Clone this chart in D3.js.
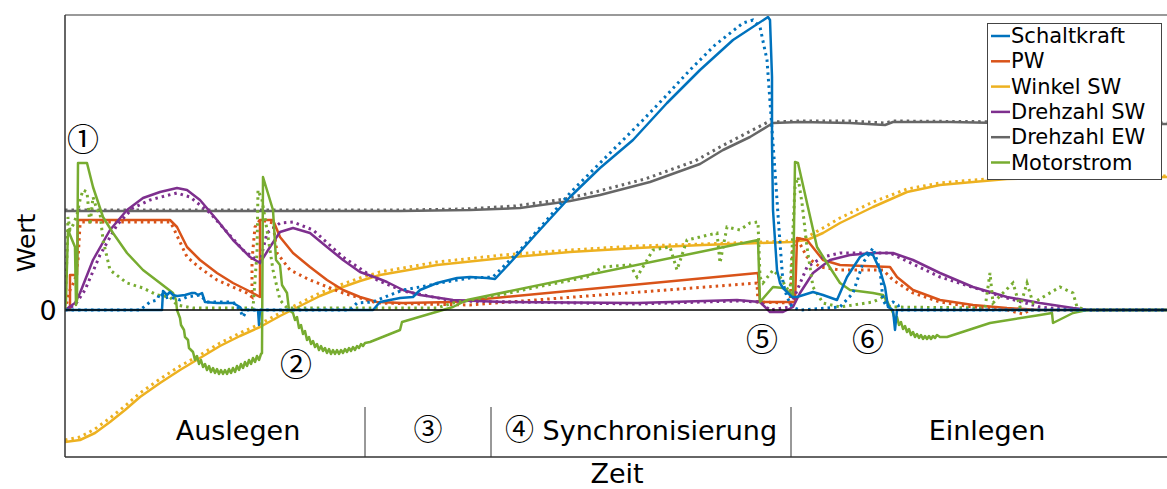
<!DOCTYPE html>
<html>
<head>
<meta charset="utf-8">
<script src="https://cdn.jsdelivr.net/npm/d3@7"></script>
<style>
  html, body { margin: 0; padding: 0; background: #fff; }
  svg { display: block; }
  text { font-family: "DejaVu Sans", "Open Sans", sans-serif; fill: #000; }
  .circ { font-family: "Noto Sans CJK JP", "DejaVu Sans", sans-serif; }
</style>
</head>
<body>
<svg id="chart" width="1167" height="489"></svg>
<script>
// Time axis (arbitrary units) and value axis (arbitrary units, 0 = rest level)
const timeDomain = [0, 1102];
const valueDomain = [-147, 295];

const seriesNames = ["Schaltkraft", "PW", "Winkel SW", "Drehzahl SW", "Drehzahl EW", "Motorstrom"];
const seriesColors = ["#0072BD", "#D95319", "#EDB120", "#7E2F8E", "#666666", "#77AC30"];

// Each series: measured (solid) and simulated (dotted) as [time, value] pairs
const schaltkraftMess = [[0,0],[97,0],[98,19],[102,15],[105,18],[108,15],[112,14],[120,15],[127,17],[130,17],[133,15],[137,17],[140,8],[152,7],[168,7],[175,3],[177,0],[193,0],[194,-15],[195,0],[308,0],[315,8],[325,10],[335,12],[348,13],[355,20],[372,27],[392,32],[405,33],[422,32],[430,31],[445,47],[472,77],[505,113],[535,142],[568,170],[602,207],[635,240],[668,270],[703,293],[705,290],[707,233],[707,167],[708,100],[712,40],[715,27],[718,22],[727,13],[732,13],[748,18],[758,15],[772,10],[782,33],[795,53],[802,57],[808,55],[815,40],[820,23],[823,3],[828,0],[830,-20],[832,0],[1102,0]];
const schaltkraftSim = [[0,0],[75,0],[85,8],[92,10],[95,17],[100,12],[105,13],[115,10],[122,13],[135,15],[142,8],[168,8],[175,0],[178,-7],[182,0],[285,0],[292,7],[308,8],[320,13],[338,20],[355,23],[380,28],[405,32],[428,33],[440,45],[455,60],[480,88],[505,117],[535,147],[555,167],[578,190],[600,213],[625,240],[650,265],[678,287],[688,290],[695,283],[702,250],[708,167],[715,67],[718,27],[722,13],[727,3],[735,0],[775,3],[788,17],[798,47],[808,62],[815,40],[818,10],[822,3],[828,8],[833,5],[835,0],[1102,0]];

const pwMess = [[0,0],[5,0],[5,35],[12,35],[13,90],[105,90],[112,83],[122,63],[135,50],[152,37],[168,27],[182,20],[195,13],[195,90],[208,90],[215,73],[228,57],[245,43],[262,30],[278,20],[295,13],[312,8],[338,7],[388,8],[693,37],[695,8],[730,8],[732,72],[742,70],[758,50],[775,45],[825,43],[832,33],[848,20],[875,10],[908,5],[942,2],[975,0],[1102,0]];
const pwSim = [[0,0],[5,20],[10,30],[13,50],[15,85],[17,88],[105,88],[108,83],[122,53],[135,42],[152,30],[168,23],[182,17],[187,13],[187,50],[190,83],[195,90],[208,87],[212,57],[225,40],[245,30],[278,17],[312,7],[405,5],[692,27],[693,8],[725,7],[728,63],[733,70],[742,53],[755,43],[775,40],[818,40],[828,30],[848,17],[875,8],[908,3],[942,0],[958,-4],[965,0],[1102,0]];

const winkelMess = [[0,-132],[15,-130],[30,-123],[45,-112],[60,-100],[75,-87],[95,-73],[115,-60],[135,-48],[155,-36],[175,-26],[195,-17],[215,-6],[235,4],[255,14],[275,22],[295,29],[315,35],[372,45],[438,52],[505,58],[572,62],[638,65],[695,67],[725,68],[742,70],[758,77],[775,87],[808,103],[842,118],[875,125],[908,128],[942,131],[1008,132],[1102,133]];
const winkelSim = [[0,-130],[15,-127],[30,-119],[45,-108],[60,-96],[75,-83],[95,-69],[115,-56],[135,-45],[155,-33],[175,-23],[195,-14],[215,-3],[235,7],[255,17],[275,25],[295,32],[315,38],[372,48],[438,55],[505,60],[572,64],[638,66],[695,68],[725,69],[742,73],[758,82],[775,92],[808,108],[842,121],[875,127],[908,130],[942,132],[1008,133],[1102,134]];

const drehzahlSwMess = [[0,0],[10,7],[15,17],[28,50],[45,80],[62,100],[78,112],[95,118],[112,122],[122,120],[135,110],[152,90],[168,70],[185,53],[195,47],[205,63],[215,78],[228,82],[245,77],[262,63],[278,50],[295,38],[312,32],[322,28],[338,20],[355,15],[388,10],[438,8],[572,7],[672,10],[695,8],[705,-2],[718,-2],[728,3],[735,17],[748,37],[765,50],[785,55],[808,57],[828,57],[848,50],[875,37],[908,23],[942,13],[975,7],[1008,2],[1025,0],[1102,0]];
const drehzahlSwSim = [[0,0],[10,5],[20,20],[35,55],[52,85],[68,102],[85,110],[100,114],[112,117],[125,113],[145,97],[178,60],[195,48],[202,77],[215,87],[228,88],[248,80],[278,53],[312,30],[338,19],[388,9],[572,6],[672,9],[695,8],[705,0],[725,3],[742,43],[758,53],[775,57],[825,57],[875,33],[942,12],[975,3],[1008,0],[1102,0]];

const drehzahlEwMess = [[0,99],[335,99],[405,100],[455,102],[505,109],[535,115],[585,128],[635,146],[658,160],[685,173],[708,187],[735,188],[785,187],[820,185],[828,188],[885,188],[935,187],[1035,186],[1102,186]];
const drehzahlEwSim = [[0,100],[335,100],[400,101],[450,104],[500,111],[530,118],[580,131],[630,149],[655,163],[680,176],[703,188],[735,189],[785,189],[820,187],[828,189],[1102,187]];

const motorstromMess = [[0,0],[1,10],[3,80],[10,63],[11,5],[12,10],[13,147],[22,147],[28,123],[38,93],[48,77],[62,57],[78,40],[95,27],[108,17],[111,10],[112,0],[115,-8],[116,-15],[119,-20],[120,-27],[123,-30],[124,-38],[128,-42],[130,-50],[132,-46],[134,-54],[136,-50],[138,-57],[140,-54],[142,-60],[144,-56],[146,-62],[148,-58],[150,-63],[152,-59],[154,-64],[156,-60],[158,-64],[160,-60],[162,-64],[164,-59],[166,-63],[168,-58],[170,-62],[172,-56],[174,-60],[176,-54],[178,-58],[180,-52],[182,-56],[184,-50],[186,-54],[188,-48],[190,-52],[192,-46],[194,-50],[196,-44],[197,-43],[198,133],[208,100],[211,50],[215,45],[217,25],[222,17],[224,0],[228,-3],[230,-10],[232,-7],[234,-18],[236,-15],[238,-24],[240,-21],[242,-30],[244,-27],[246,-34],[248,-31],[250,-37],[252,-34],[254,-40],[256,-36],[258,-41],[260,-38],[262,-43],[264,-39],[266,-44],[268,-40],[270,-44],[272,-40],[274,-44],[276,-40],[278,-43],[280,-39],[282,-42],[284,-38],[286,-41],[288,-37],[290,-40],[292,-36],[294,-38],[296,-34],[298,-36],[300,-33],[305,-32],[335,-20],[337,-12],[388,3],[402,10],[693,70],[695,8],[708,23],[718,22],[728,15],[730,148],[733,147],[742,107],[752,63],[762,47],[775,27],[785,20],[808,17],[818,15],[823,7],[828,-3],[830,-10],[832,-7],[834,-15],[836,-12],[838,-19],[840,-16],[842,-22],[844,-19],[846,-25],[848,-22],[850,-27],[852,-24],[854,-28],[856,-25],[858,-29],[860,-26],[862,-29],[864,-26],[866,-29],[868,-26],[870,-28],[872,-25],[875,-27],[882,-27],[925,-13],[975,-5],[987,-3],[988,-13],[1008,-3],[1022,0],[1102,0]];
const motorstromSim = [[0,0],[2,57],[3,93],[5,80],[8,85],[12,95],[15,110],[18,120],[22,118],[25,85],[28,113],[32,100],[35,97],[38,70],[45,40],[62,27],[78,22],[92,15],[105,13],[112,5],[128,2],[188,2],[192,57],[193,120],[197,110],[202,80],[208,40],[215,10],[222,2],[372,2],[388,7],[435,15],[472,23],[522,33],[538,43],[565,45],[572,33],[588,60],[605,63],[612,40],[622,70],[635,73],[652,77],[655,47],[662,83],[675,80],[685,87],[693,88],[695,33],[698,27],[708,40],[715,33],[725,17],[730,123],[733,133],[737,107],[742,63],[748,23],[758,7],[775,3],[808,8],[818,13],[825,3],[920,2],[925,37],[928,7],[948,27],[955,3],[962,27],[968,7],[995,23],[1008,17],[1012,3],[1022,0],[1102,0]];

const measured = [schaltkraftMess, pwMess, winkelMess, drehzahlSwMess, drehzahlEwMess, motorstromMess];
const simulated = [schaltkraftSim, pwSim, winkelSim, drehzahlSwSim, drehzahlEwSim, motorstromSim];

// Phase boundaries on the time axis and phase labels (circled number + name)
const phaseBounds = [300, 426, 726];
const phaseLabels = [
  { t: 173, num: "", text: "Auslegen" },
  { t: 363, num: "③", text: "" },
  { t: 576, num: "④", text: " Synchronisierung" },
  { t: 922, num: "", text: "Einlegen" }
];
// Event markers
const markers = [
  { t: 18, v: 173, text: "①" },
  { t: 231, v: -52, text: "②" },
  { t: 697, v: -27, text: "⑤" },
  { t: 803, v: -27, text: "⑥" }
];

const svg = d3.select("#chart");
const plot = { left: 65, right: 1167, top: 15, bottom: 457 };

const x = d3.scaleLinear().domain(timeDomain).range([plot.left, plot.right]);
const y = d3.scaleLinear().domain(valueDomain).range([plot.bottom, plot.top]);

const line = d3.line().x(d => x(d[0])).y(d => y(d[1]));

svg.append("defs").append("clipPath").attr("id", "clip")
  .append("rect").attr("x", plot.left).attr("y", plot.top)
  .attr("width", plot.right - plot.left).attr("height", plot.bottom - plot.top);

const g = svg.append("g");
const lines = g.append("g").attr("clip-path", "url(#clip)");

// Draw order: gray speed first, then the others
const order = [4, 2, 1, 3, 5, 0];
order.forEach(i => {
  lines.append("path")
    .datum(simulated[i])
    .attr("d", line)
    .attr("fill", "none")
    .attr("stroke", seriesColors[i])
    .attr("stroke-width", 3)
    .attr("stroke-dasharray", "2.5 4");
  lines.append("path")
    .datum(measured[i])
    .attr("d", line)
    .attr("fill", "none")
    .attr("stroke", seriesColors[i])
    .attr("stroke-width", 2.5)
    .attr("stroke-linejoin", "round");
});

// zero line
g.append("line")
  .attr("x1", plot.left).attr("x2", plot.right)
  .attr("y1", y(0)).attr("y2", y(0))
  .attr("stroke", "#000").attr("stroke-width", 1.3);

// Frame: top and bottom in gray, left axis dark
g.append("line").attr("x1", plot.left).attr("x2", plot.right)
  .attr("y1", plot.top).attr("y2", plot.top)
  .attr("stroke", "#777").attr("stroke-width", 1.5);
g.append("line").attr("x1", plot.left).attr("x2", plot.right)
  .attr("y1", plot.bottom).attr("y2", plot.bottom)
  .attr("stroke", "#666").attr("stroke-width", 2);
g.append("line").attr("x1", plot.left).attr("x2", plot.left)
  .attr("y1", plot.top).attr("y2", plot.bottom)
  .attr("stroke", "#333").attr("stroke-width", 1.5);

// Phase separators and labels
phaseBounds.forEach(t => {
  g.append("line")
    .attr("x1", x(t)).attr("x2", x(t))
    .attr("y1", 407).attr("y2", plot.bottom)
    .attr("stroke", "#333").attr("stroke-width", 1);
});
phaseLabels.forEach(p => {
  const txt = g.append("text")
    .attr("x", x(p.t)).attr("y", 440)
    .attr("text-anchor", "middle")
    .attr("font-size", 27);
  if (p.num) txt.append("tspan").attr("class", "circ").attr("font-size", 29).text(p.num);
  if (p.text) txt.append("tspan").text(p.text);
});

markers.forEach(m => {
  g.append("text")
    .attr("class", "circ")
    .attr("x", x(m.t)).attr("y", y(m.v))
    .attr("text-anchor", "middle")
    .attr("dominant-baseline", "central")
    .attr("font-size", 32)
    .text(m.text);
});

// Axis labels
g.append("text").attr("x", 48).attr("y", y(0)).attr("text-anchor", "middle")
  .attr("dominant-baseline", "central").attr("font-size", 27).text("0");
g.append("text").attr("transform", "translate(35,243) rotate(-90)")
  .attr("text-anchor", "middle").attr("font-size", 25).text("Wert");
g.append("text").attr("x", 617).attr("y", 483).attr("text-anchor", "middle")
  .attr("font-size", 27).text("Zeit");

// Legend
const lg = g.append("g");
lg.append("rect").attr("x", 987.5).attr("y", 23.5).attr("width", 174).attr("height", 156)
  .attr("fill", "#fff").attr("stroke", "#444").attr("stroke-width", 1);
seriesNames.forEach((name, i) => {
  const cy = 36 + i * 25.3;
  lg.append("line").attr("x1", 991).attr("x2", 1010).attr("y1", cy).attr("y2", cy)
    .attr("stroke", seriesColors[i]).attr("stroke-width", 2.5);
  lg.append("text").attr("x", 1011).attr("y", cy).attr("dominant-baseline", "central")
    .attr("font-size", 21).text(name);
});
</script>
</body>
</html>
